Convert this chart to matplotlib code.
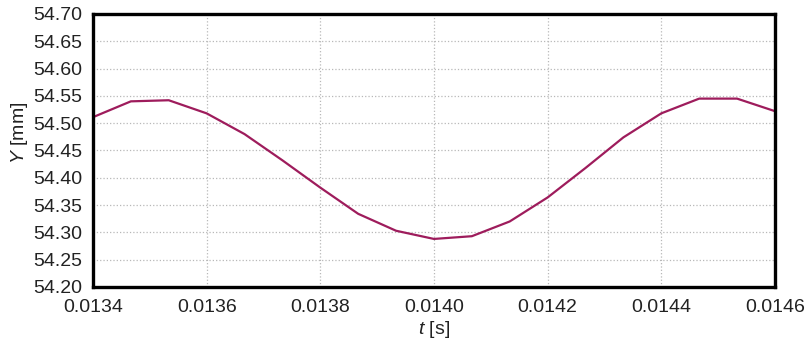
import numpy as np
import matplotlib.pyplot as plt

plt.rcParams['font.family'] = ['Liberation Sans', 'DejaVu Sans']
plt.rcParams['mathtext.fontset'] = 'custom'
plt.rcParams['mathtext.rm'] = 'Liberation Sans'
plt.rcParams['mathtext.it'] = 'Liberation Sans:italic'

# time samples [s] and displacement [mm]
t_vals = [0.0134, 0.0134667, 0.0135333, 0.0136, 0.0136667, 0.0137333, 0.0138,
          0.0138667, 0.0139333, 0.0140, 0.0140667, 0.0141333, 0.0142,
          0.0142667, 0.0143333, 0.0144, 0.0144667, 0.0145333, 0.0146]
y_vals = [54.511, 54.540, 54.542, 54.518, 54.480, 54.432, 54.382,
          54.334, 54.303, 54.288, 54.293, 54.320, 54.364,
          54.418, 54.474, 54.518, 54.545, 54.545, 54.522]

xticks = [0.0134, 0.0136, 0.0138, 0.0140, 0.0142, 0.0144, 0.0146]
yticks = np.round(np.arange(54.20, 54.701, 0.05), 2)

fig = plt.figure(figsize=(8.07, 3.41), dpi=100)
ax = fig.add_axes([0.1152, 0.1584, 0.8451, 0.8006])

ax.plot(t_vals, y_vals, color='#9e1c5c', lw=1.6)

ax.set_xlim(0.0134, 0.0146)
ax.set_ylim(54.20, 54.70)
ax.set_xticks(xticks)
ax.set_xticklabels(['%.4f' % v for v in xticks])
ax.set_yticks(yticks)
ax.set_yticklabels(['%.2f' % v for v in yticks])
ax.tick_params(length=0, labelsize=14, colors='#222222')
ax.tick_params(axis='x', pad=8.5)
ax.tick_params(axis='y', pad=7.5)
ax.grid(True, color='#b8b8b8', ls=':', lw=0.9)

for s in ax.spines.values():
    s.set_linewidth(2.4)
    s.set_color('black')

ax.set_xlabel(r'$t$ [s]', fontsize=14, color='#222222')
ax.set_ylabel(r'$Y$ [mm]', fontsize=14, color='#222222')
ax.xaxis.set_label_coords(434 / 807, 1 - 330 / 341, transform=fig.transFigure)
ax.xaxis.label.set_va('center')
ax.yaxis.set_label_coords(19 / 807, 1 - 133 / 341, transform=fig.transFigure)
ax.yaxis.label.set_va('center')

fig.savefig('out.png', dpi=100)
